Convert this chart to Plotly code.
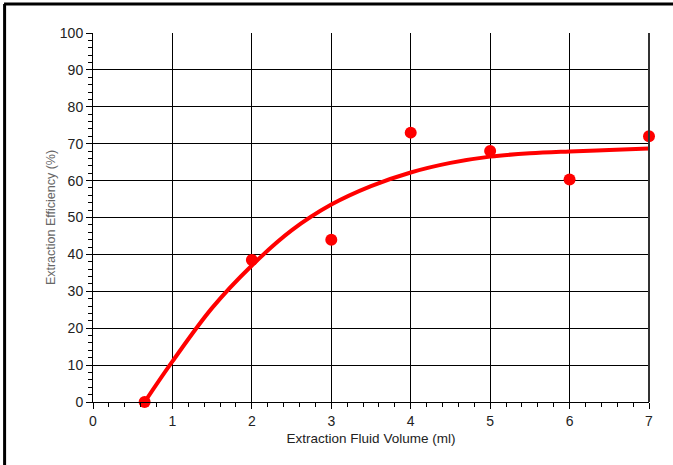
import plotly.graph_objects as go

# Measured data points
vol = [0.65, 2, 3, 4, 5, 6, 7]
eff = [0, 38.5, 44, 73, 68, 60.3, 72]

# Fitted curve
fit_x = [0.65, 1.0, 1.5, 2.0, 2.5, 3.0, 3.5, 4.0, 4.5, 5.0, 5.5, 6.0, 6.5, 7.0]
fit_y = [0, 11, 25.5, 37, 46.5, 53.5, 58.5, 62.2, 64.8, 66.5, 67.4, 67.9, 68.3, 68.7]

x_ticks = [0, 1, 2, 3, 4, 5, 6, 7]
y_ticks = [0, 10, 20, 30, 40, 50, 60, 70, 80, 90, 100]

fig = go.Figure()
fig.add_trace(go.Scatter(x=fit_x, y=fit_y, mode="lines",
                         line=dict(color="#ff0000", width=4, shape="spline", smoothing=1.0),
                         hoverinfo="skip", cliponaxis=False))
fig.add_trace(go.Scatter(x=vol, y=eff, mode="markers",
                         marker=dict(color="#ff0000", size=12, line=dict(width=0)),
                         cliponaxis=False))

font = "Liberation Sans, Arial, sans-serif"
fig.update_layout(
    width=673, height=465,
    margin=dict(l=93, r=24, t=33, b=63),
    paper_bgcolor="white", plot_bgcolor="white",
    showlegend=False,
    font=dict(family=font, size=14, color="#222"),
    xaxis=dict(range=[0, 7], tickvals=x_ticks, showgrid=True, gridcolor="black", gridwidth=1,
               showline=True, linecolor="black", linewidth=1, mirror=False, automargin=False,
               ticks="outside", ticklen=6, tickcolor="black", zeroline=False,
               minor=dict(dtick=0.2, ticks="outside", ticklen=4, tickcolor="black", showgrid=False),
               title=dict(text="Extraction Fluid Volume (ml)", font=dict(size=13.5, color="#222"), standoff=5)),
    yaxis=dict(range=[0, 100], tickvals=y_ticks, showgrid=True, gridcolor="black", gridwidth=1,
               showline=True, linecolor="black", linewidth=1, automargin=False,
               ticks="outside", ticklen=6, tickcolor="black", zeroline=False,
               minor=dict(dtick=2, ticks="outside", ticklen=4, tickcolor="black", showgrid=False),
               title=dict(text="Extraction Efficiency (%)", font=dict(size=12.5, color="#666"), standoff=1)),
)
# right border of plot area
fig.add_shape(type="line", xref="paper", yref="paper", x0=1, x1=1, y0=0, y1=1,
              line=dict(color="#333", width=2))
# outer frame (top and left edges)
fig.add_shape(type="line", xref="paper", yref="paper", x0=-0.16, x1=1.2, y0=1.0786, y1=1.0786,
              line=dict(color="black", width=3))
fig.add_shape(type="line", xref="paper", yref="paper", x0=-0.159, x1=-0.159, y0=-0.3, y1=1.0786,
              line=dict(color="black", width=3))

fig.write_html("out.html", config={"displayModeBar": False},
               post_script="document.body.style.margin='0';document.body.style.overflow='hidden';")
